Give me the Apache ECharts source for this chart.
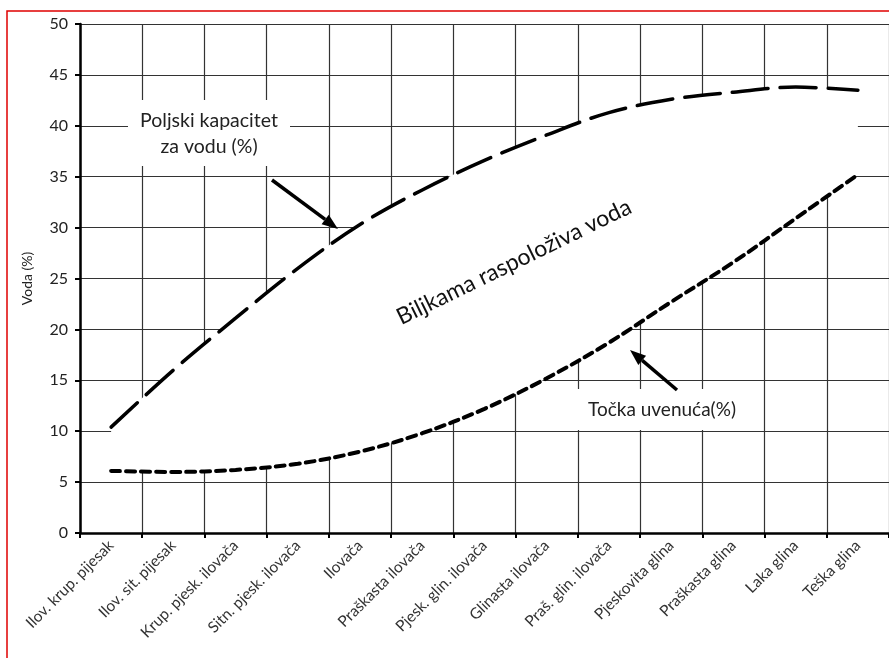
<!DOCTYPE html>
<html>
<head>
<meta charset="utf-8">
<script src="https://cdn.jsdelivr.net/npm/echarts@6/dist/echarts.min.js"></script>
<style>
  html, body { margin: 0; padding: 0; background: #fff; }
  #main { width: 889px; height: 658px; }
</style>
</head>
<body>
<div id="main"></div>
<script>
// tipovi tla
var soilTypes = ['Ilov. krup. pijesak', 'Ilov. sit. pijesak', 'Krup. pjesk. ilovača', 'Sitn. pjesk. ilovača',
    'Ilovača', 'Praškasta ilovača', 'Pjesk. glin. ilovača', 'Glinasta ilovača', 'Praš. glin. ilovača',
    'Pjeskovita glina', 'Praškasta glina', 'Laka glina', 'Teška glina'];

// poljski kapacitet za vodu (%)
var fieldCapacity = [10.4, 16.0, 21.1, 26.0, 30.3, 33.7, 36.6, 39.1, 41.3, 42.6, 43.3, 43.8, 43.5];

// tocka uvenuca (%)
var wiltingPoint = [6.1, 6.0, 6.2, 6.8, 8.0, 9.8, 12.2, 15.2, 18.7, 22.7, 26.6, 30.9, 35.2];

var yTicks = { min: 0, max: 50, step: 5 };

var band = fieldCapacity.map(function (v, i) { return +(v - wiltingPoint[i]).toFixed(2); });

var txtFont = 'Lato, "Open Sans", sans-serif';

function arrow(x1, y1, x2, y2) {
    var a = Math.atan2(y2 - y1, x2 - x1);
    var len = 16, half = 6;
    var bx = x2 - len * Math.cos(a), by = y2 - len * Math.sin(a);
    var px = -Math.sin(a) * half, py = Math.cos(a) * half;
    return [
        {
            type: 'line', z: 100,
            shape: { x1: x1, y1: y1, x2: bx, y2: by },
            style: { stroke: '#000', lineWidth: 3.5 }
        },
        {
            type: 'polygon', z: 100,
            shape: { points: [[x2, y2], [bx + px, by + py], [bx - px, by - py]] },
            style: { fill: '#000' }
        }
    ];
}

var chart = echarts.init(document.getElementById('main'));

var option = {
    backgroundColor: '#fff',
    animation: false,
    grid: {
        left: 80,
        top: 24,
        width: 812,
        bottom: 125
    },
    xAxis: {
        type: 'category',
        data: soilTypes,
        boundaryGap: true,
        axisLine: { lineStyle: { color: '#000', width: 2.5 } },
        axisTick: { show: true, length: 5, lineStyle: { color: '#000', width: 2 } },
        splitLine: { show: true, lineStyle: { color: '#333', width: 1.2 } },
        axisLabel: {
            rotate: 45,
            interval: 0,
            margin: 10,
            color: '#333',
            fontSize: 15.5,
            fontFamily: txtFont
        }
    },
    yAxis: {
        type: 'value',
        min: yTicks.min,
        max: yTicks.max,
        interval: yTicks.step,
        name: 'Voda (%)',
        nameLocation: 'middle',
        nameGap: 46,
        nameTextStyle: { color: '#222', fontSize: 14, fontFamily: txtFont },
        axisLine: { show: true, lineStyle: { color: '#000', width: 2.5 } },
        axisTick: { show: true, length: 5, lineStyle: { color: '#000', width: 2 } },
        splitLine: { show: true, lineStyle: { color: '#333', width: 1.2 } },
        axisLabel: { color: '#222', fontSize: 16, margin: 12, fontFamily: txtFont }
    },
    series: [
        {
            name: 'base',
            type: 'line',
            stack: 'band',
            data: wiltingPoint,
            smooth: 0.35,
            symbol: 'none',
            lineStyle: { opacity: 0 },
            silent: true
        },
        {
            name: 'Biljkama raspoloživa voda',
            type: 'line',
            stack: 'band',
            data: band,
            smooth: 0.35,
            symbol: 'none',
            lineStyle: { opacity: 0 },
            areaStyle: { color: '#fff', opacity: 1 },
            silent: true
        },
        {
            name: 'Poljski kapacitet za vodu (%)',
            type: 'line',
            data: fieldCapacity,
            smooth: 0.35,
            symbol: 'none',
            lineStyle: { color: '#000', width: 3.5, type: [36, 12], cap: 'round' }
        },
        {
            name: 'Točka uvenuća(%)',
            type: 'line',
            data: wiltingPoint,
            smooth: 0.35,
            symbol: 'none',
            lineStyle: { color: '#000', width: 4, type: [9, 6], cap: 'round' }
        }
    ],
    graphic: [
        {
            type: 'rect', z: 200, silent: true,
            shape: { x: 7, y: 11, width: 900, height: 700 },
            style: { fill: 'none', stroke: '#e00000', lineWidth: 1.5 }
        },
        {
            type: 'rect', z: 90,
            shape: { x: 128, y: 100, width: 162, height: 66 },
            style: { fill: '#fff' }
        },
        {
            type: 'text', z: 101,
            x: 209, y: 134,
            style: {
                text: 'Poljski kapacitet\nza vodu (%)',
                align: 'center', verticalAlign: 'middle',
                font: '19.5px ' + txtFont, lineHeight: 26, fill: '#222'
            }
        },
        {
            type: 'rect', z: 90,
            shape: { x: 572, y: 389, width: 180, height: 41 },
            style: { fill: '#fff' }
        },
        {
            type: 'text', z: 101,
            x: 662, y: 410,
            style: {
                text: 'Točka uvenuća(%)',
                align: 'center', verticalAlign: 'middle',
                font: '19px ' + txtFont, fill: '#222'
            }
        },
        {
            type: 'text', z: 101,
            x: 514, y: 262,
            rotation: 26 * Math.PI / 180,
            style: {
                text: 'Biljkama raspoloživa voda',
                align: 'center', verticalAlign: 'middle',
                font: '23px ' + txtFont, fill: '#111'
            }
        }
    ].concat(arrow(272, 180, 338, 229), arrow(677, 390, 630, 350))
};

chart.setOption(option);
</script>
</body>
</html>
